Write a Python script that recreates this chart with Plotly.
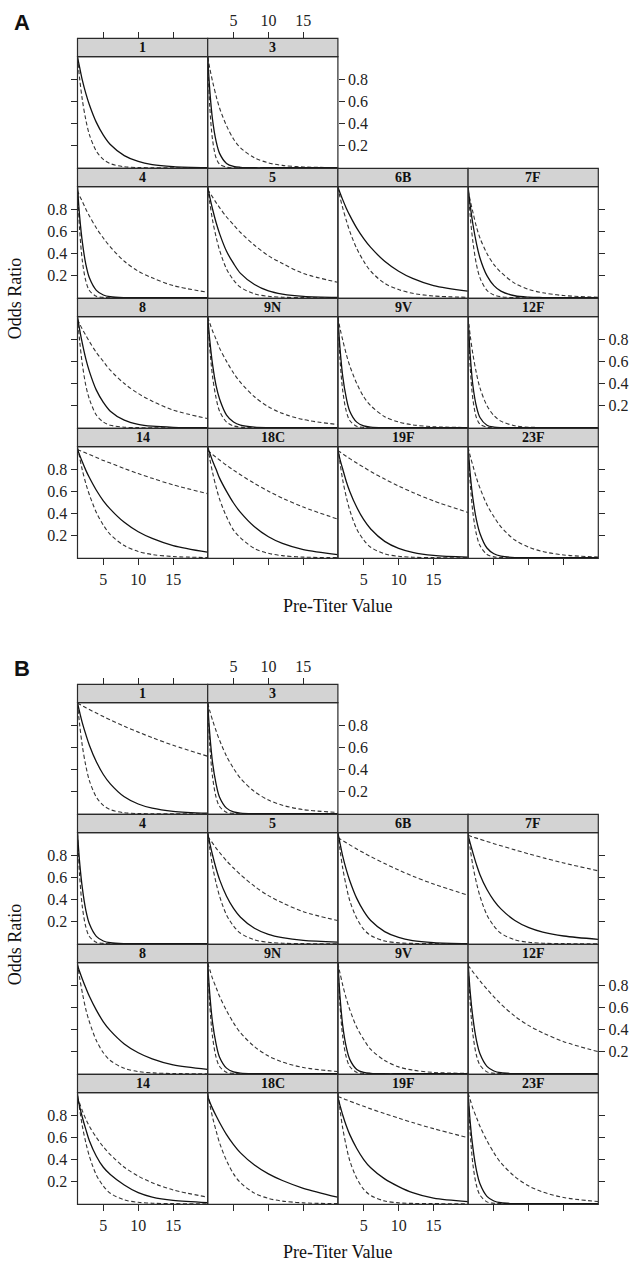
import plotly.graph_objects as go

# ---------------- data ----------------
X_GRID = [1.3, 1.6, 2, 2.5, 3, 4, 5, 6, 8, 10, 12, 15, 19.9]
X_TICKS = [5, 10, 15]
Y_TICKS = [0.2, 0.4, 0.6, 0.8]
PANEL_ROWS = [["1", "3"], ["4", "5", "6B", "7F"], ["8", "9N", "9V", "12F"], ["14", "18C", "19F", "23F"]]

# ---- Figure A ----
A_1_fit = [1.0, 0.91, 0.79, 0.67, 0.57, 0.41, 0.295, 0.21, 0.11, 0.057, 0.029, 0.011, 0.002]
A_1_lo = [1.0, 0.81, 0.61, 0.43, 0.30, 0.15, 0.075, 0.037, 0.009, 0.002, 0.0, 0.0, 0.0]
A_3_fit = [1.0, 0.70, 0.43, 0.24, 0.13, 0.039, 0.012, 0.004, 0.0, 0.0, 0.0, 0.0, 0.0]
A_3_lo = [1.0, 0.55, 0.25, 0.09, 0.033, 0.005, 0.0, 0.0, 0.0, 0.0, 0.0, 0.0, 0.0]
A_3_hi = [1.0, 0.90, 0.78, 0.65, 0.54, 0.38, 0.26, 0.18, 0.09, 0.044, 0.021, 0.007, 0.001]
A_4_fit = [1.0, 0.74, 0.50, 0.30, 0.18, 0.067, 0.025, 0.009, 0.001, 0.0, 0.0, 0.0, 0.0]
A_4_lo = [1.0, 0.62, 0.33, 0.15, 0.066, 0.013, 0.003, 0.0, 0.0, 0.0, 0.0, 0.0, 0.0]
A_4_hi = [0.97, 0.92, 0.87, 0.80, 0.74, 0.63, 0.54, 0.46, 0.33, 0.24, 0.18, 0.11, 0.05]
A_5_fit = [1.0, 0.91, 0.80, 0.68, 0.58, 0.42, 0.31, 0.22, 0.12, 0.062, 0.033, 0.012, 0.003]
A_5_lo = [1.0, 0.86, 0.70, 0.55, 0.43, 0.26, 0.16, 0.095, 0.035, 0.013, 0.005, 0.001, 0.0]
A_5_hi = [0.98, 0.95, 0.91, 0.86, 0.815, 0.73, 0.66, 0.59, 0.475, 0.38, 0.31, 0.22, 0.14]
A_6B_fit = [1.0, 0.95, 0.885, 0.81, 0.745, 0.63, 0.535, 0.455, 0.33, 0.24, 0.175, 0.11, 0.06]
A_6B_lo = [1.0, 0.91, 0.81, 0.70, 0.60, 0.445, 0.33, 0.24, 0.13, 0.074, 0.04, 0.016, 0.004]
A_7F_fit = [1.0, 0.835, 0.66, 0.49, 0.36, 0.20, 0.11, 0.06, 0.018, 0.005, 0.002, 0.0, 0.0]
A_7F_lo = [1.0, 0.74, 0.50, 0.30, 0.18, 0.067, 0.025, 0.009, 0.001, 0.0, 0.0, 0.0, 0.0]
A_7F_hi = [0.97, 0.88, 0.77, 0.64, 0.54, 0.40, 0.30, 0.23, 0.13, 0.075, 0.045, 0.02, 0.005]
A_8_fit = [1.0, 0.89, 0.76, 0.62, 0.51, 0.34, 0.23, 0.15, 0.069, 0.031, 0.014, 0.004, 0.001]
A_8_lo = [1.0, 0.79, 0.57, 0.38, 0.26, 0.115, 0.052, 0.023, 0.005, 0.001, 0.0, 0.0, 0.0]
A_8_hi = [0.98, 0.94, 0.89, 0.835, 0.78, 0.68, 0.60, 0.52, 0.40, 0.31, 0.24, 0.16, 0.083]
A_9N_fit = [1.0, 0.79, 0.57, 0.38, 0.26, 0.115, 0.052, 0.023, 0.005, 0.001, 0.0, 0.0, 0.0]
A_9N_lo = [1.0, 0.72, 0.46, 0.27, 0.15, 0.051, 0.017, 0.006, 0.001, 0.0, 0.0, 0.0, 0.0]
A_9N_hi = [1.0, 0.945, 0.875, 0.80, 0.72, 0.60, 0.495, 0.41, 0.28, 0.19, 0.13, 0.074, 0.029]
A_9V_fit = [1.0, 0.72, 0.46, 0.27, 0.15, 0.051, 0.017, 0.006, 0.001, 0.0, 0.0, 0.0, 0.0]
A_9V_lo = [1.0, 0.62, 0.33, 0.15, 0.066, 0.013, 0.003, 0.0, 0.0, 0.0, 0.0, 0.0, 0.0]
A_9V_hi = [1.0, 0.90, 0.79, 0.665, 0.56, 0.40, 0.28, 0.20, 0.10, 0.052, 0.026, 0.009, 0.002]
A_12F_fit = [1.0, 0.66, 0.375, 0.19, 0.093, 0.023, 0.006, 0.001, 0.0, 0.0, 0.0, 0.0, 0.0]
A_12F_lo = [1.0, 0.55, 0.25, 0.09, 0.033, 0.005, 0.0, 0.0, 0.0, 0.0, 0.0, 0.0, 0.0]
A_12F_hi = [1.0, 0.835, 0.66, 0.49, 0.36, 0.20, 0.11, 0.06, 0.018, 0.005, 0.002, 0.0, 0.0]
A_14_fit = [0.98, 0.93, 0.865, 0.79, 0.725, 0.61, 0.515, 0.44, 0.32, 0.235, 0.175, 0.11, 0.05]
A_14_lo = [1.0, 0.91, 0.79, 0.67, 0.57, 0.41, 0.295, 0.21, 0.11, 0.057, 0.029, 0.011, 0.002]
A_14_hi = [0.98, 0.97, 0.96, 0.947, 0.933, 0.907, 0.88, 0.856, 0.807, 0.761, 0.718, 0.659, 0.58]
A_18C_fit = [1.0, 0.945, 0.875, 0.80, 0.72, 0.60, 0.495, 0.41, 0.28, 0.19, 0.13, 0.074, 0.029]
A_18C_lo = [1.0, 0.895, 0.77, 0.64, 0.53, 0.37, 0.25, 0.18, 0.084, 0.04, 0.019, 0.006, 0.001]
A_18C_hi = [0.97, 0.954, 0.933, 0.908, 0.884, 0.836, 0.792, 0.75, 0.672, 0.602, 0.539, 0.458, 0.35]
A_19F_fit = [0.97, 0.89, 0.80, 0.69, 0.60, 0.456, 0.344, 0.26, 0.148, 0.085, 0.049, 0.021, 0.005]
A_19F_lo = [1.0, 0.86, 0.70, 0.55, 0.43, 0.26, 0.16, 0.095, 0.035, 0.013, 0.005, 0.001, 0.0]
A_19F_hi = [0.97, 0.956, 0.939, 0.918, 0.896, 0.856, 0.818, 0.78, 0.711, 0.648, 0.591, 0.514, 0.41]
A_23F_fit = [1.0, 0.76, 0.53, 0.34, 0.22, 0.088, 0.036, 0.015, 0.002, 0.0, 0.0, 0.0, 0.0]
A_23F_lo = [1.0, 0.68, 0.40, 0.21, 0.11, 0.03, 0.008, 0.002, 0.0, 0.0, 0.0, 0.0, 0.0]
A_23F_hi = [1.0, 0.92, 0.83, 0.72, 0.63, 0.48, 0.37, 0.28, 0.16, 0.095, 0.056, 0.025, 0.007]

# ---- Figure B ----
B_1_fit = [1.0, 0.92, 0.82, 0.715, 0.62, 0.47, 0.355, 0.27, 0.153, 0.088, 0.05, 0.022, 0.005]
B_1_lo = [1.0, 0.81, 0.61, 0.43, 0.30, 0.15, 0.075, 0.037, 0.009, 0.002, 0.0, 0.0, 0.0]
B_1_hi = [1.0, 0.99, 0.976, 0.959, 0.942, 0.91, 0.879, 0.848, 0.791, 0.738, 0.688, 0.619, 0.521]
B_3_fit = [1.0, 0.72, 0.46, 0.27, 0.15, 0.051, 0.017, 0.006, 0.001, 0.0, 0.0, 0.0, 0.0]
B_3_lo = [1.0, 0.62, 0.33, 0.15, 0.066, 0.013, 0.003, 0.0, 0.0, 0.0, 0.0, 0.0, 0.0]
B_3_hi = [1.0, 0.93, 0.845, 0.75, 0.665, 0.52, 0.41, 0.32, 0.20, 0.124, 0.077, 0.037, 0.012]
B_4_fit = [1.0, 0.74, 0.50, 0.30, 0.18, 0.067, 0.025, 0.009, 0.001, 0.0, 0.0, 0.0, 0.0]
B_4_lo = [1.0, 0.62, 0.33, 0.15, 0.066, 0.013, 0.003, 0.0, 0.0, 0.0, 0.0, 0.0, 0.0]
B_5_fit = [1.0, 0.91, 0.80, 0.68, 0.58, 0.43, 0.32, 0.24, 0.14, 0.085, 0.055, 0.03, 0.015]
B_5_lo = [1.0, 0.86, 0.70, 0.55, 0.43, 0.26, 0.16, 0.095, 0.035, 0.013, 0.005, 0.001, 0.0]
B_5_hi = [0.97, 0.945, 0.91, 0.865, 0.825, 0.75, 0.685, 0.625, 0.52, 0.435, 0.37, 0.29, 0.21]
B_6B_fit = [1.0, 0.91, 0.79, 0.67, 0.57, 0.41, 0.295, 0.21, 0.11, 0.057, 0.029, 0.011, 0.002]
B_6B_lo = [1.0, 0.85, 0.68, 0.52, 0.39, 0.23, 0.13, 0.075, 0.025, 0.008, 0.003, 0.001, 0.0]
B_6B_hi = [0.96, 0.948, 0.932, 0.913, 0.894, 0.857, 0.822, 0.788, 0.725, 0.666, 0.612, 0.54, 0.44]
B_7F_fit = [0.98, 0.91, 0.82, 0.715, 0.625, 0.49, 0.39, 0.315, 0.21, 0.145, 0.105, 0.07, 0.04]
B_7F_lo = [1.0, 0.86, 0.70, 0.55, 0.43, 0.26, 0.16, 0.095, 0.035, 0.013, 0.005, 0.001, 0.0]
B_7F_hi = [0.98, 0.974, 0.965, 0.955, 0.945, 0.925, 0.905, 0.886, 0.849, 0.812, 0.778, 0.73, 0.66]
B_8_fit = [0.98, 0.925, 0.855, 0.775, 0.70, 0.575, 0.47, 0.39, 0.27, 0.19, 0.135, 0.08, 0.04]
B_8_lo = [1.0, 0.87, 0.73, 0.58, 0.47, 0.30, 0.19, 0.12, 0.049, 0.02, 0.008, 0.002, 0.0]
B_9N_fit = [1.0, 0.72, 0.46, 0.27, 0.15, 0.051, 0.017, 0.006, 0.001, 0.0, 0.0, 0.0, 0.0]
B_9N_lo = [1.0, 0.62, 0.33, 0.15, 0.066, 0.013, 0.003, 0.0, 0.0, 0.0, 0.0, 0.0, 0.0]
B_9N_hi = [1.0, 0.94, 0.86, 0.78, 0.70, 0.57, 0.46, 0.37, 0.245, 0.16, 0.106, 0.056, 0.02]
B_9V_fit = [1.0, 0.70, 0.43, 0.24, 0.13, 0.039, 0.012, 0.004, 0.0, 0.0, 0.0, 0.0, 0.0]
B_9V_lo = [1.0, 0.62, 0.33, 0.15, 0.066, 0.013, 0.003, 0.0, 0.0, 0.0, 0.0, 0.0, 0.0]
B_9V_hi = [1.0, 0.91, 0.80, 0.68, 0.58, 0.42, 0.31, 0.22, 0.12, 0.062, 0.033, 0.012, 0.003]
B_12F_fit = [1.0, 0.74, 0.50, 0.30, 0.18, 0.067, 0.025, 0.009, 0.001, 0.0, 0.0, 0.0, 0.0]
B_12F_lo = [1.0, 0.64, 0.35, 0.165, 0.078, 0.017, 0.004, 0.001, 0.0, 0.0, 0.0, 0.0, 0.0]
B_12F_hi = [0.98, 0.955, 0.92, 0.88, 0.84, 0.765, 0.695, 0.63, 0.52, 0.435, 0.37, 0.29, 0.20]
B_14_fit = [0.97, 0.88, 0.78, 0.67, 0.57, 0.43, 0.33, 0.265, 0.17, 0.10, 0.06, 0.03, 0.01]
B_14_lo = [1.0, 0.86, 0.70, 0.55, 0.43, 0.26, 0.16, 0.095, 0.035, 0.013, 0.005, 0.001, 0.0]
B_14_hi = [0.97, 0.91, 0.84, 0.765, 0.70, 0.60, 0.515, 0.445, 0.33, 0.25, 0.19, 0.125, 0.06]
B_18C_fit = [0.97, 0.92, 0.86, 0.795, 0.735, 0.625, 0.535, 0.46, 0.35, 0.27, 0.21, 0.14, 0.06]
B_18C_lo = [1.0, 0.90, 0.78, 0.66, 0.55, 0.39, 0.27, 0.19, 0.096, 0.048, 0.024, 0.008, 0.001]
B_19F_fit = [0.96, 0.89, 0.80, 0.705, 0.625, 0.50, 0.40, 0.325, 0.225, 0.155, 0.10, 0.05, 0.02]
B_19F_lo = [1.0, 0.85, 0.68, 0.52, 0.39, 0.23, 0.13, 0.075, 0.025, 0.008, 0.003, 0.001, 0.0]
B_19F_hi = [0.97, 0.962, 0.953, 0.94, 0.928, 0.904, 0.881, 0.858, 0.815, 0.774, 0.734, 0.679, 0.598]
B_23F_fit = [1.0, 0.74, 0.50, 0.30, 0.18, 0.067, 0.025, 0.009, 0.001, 0.0, 0.0, 0.0, 0.0]
B_23F_lo = [1.0, 0.64, 0.35, 0.165, 0.078, 0.017, 0.004, 0.001, 0.0, 0.0, 0.0, 0.0, 0.0]
B_23F_hi = [1.0, 0.94, 0.86, 0.78, 0.70, 0.57, 0.46, 0.37, 0.245, 0.16, 0.106, 0.056, 0.02]

CURVES = {
    "A": {
        "1": (A_1_fit, A_1_lo, None), "3": (A_3_fit, A_3_lo, A_3_hi),
        "4": (A_4_fit, A_4_lo, A_4_hi), "5": (A_5_fit, A_5_lo, A_5_hi),
        "6B": (A_6B_fit, A_6B_lo, None), "7F": (A_7F_fit, A_7F_lo, A_7F_hi),
        "8": (A_8_fit, A_8_lo, A_8_hi), "9N": (A_9N_fit, A_9N_lo, A_9N_hi),
        "9V": (A_9V_fit, A_9V_lo, A_9V_hi), "12F": (A_12F_fit, A_12F_lo, A_12F_hi),
        "14": (A_14_fit, A_14_lo, A_14_hi), "18C": (A_18C_fit, A_18C_lo, A_18C_hi),
        "19F": (A_19F_fit, A_19F_lo, A_19F_hi), "23F": (A_23F_fit, A_23F_lo, A_23F_hi),
    },
    "B": {
        "1": (B_1_fit, B_1_lo, B_1_hi), "3": (B_3_fit, B_3_lo, B_3_hi),
        "4": (B_4_fit, B_4_lo, None), "5": (B_5_fit, B_5_lo, B_5_hi),
        "6B": (B_6B_fit, B_6B_lo, B_6B_hi), "7F": (B_7F_fit, B_7F_lo, B_7F_hi),
        "8": (B_8_fit, B_8_lo, None), "9N": (B_9N_fit, B_9N_lo, B_9N_hi),
        "9V": (B_9V_fit, B_9V_lo, B_9V_hi), "12F": (B_12F_fit, B_12F_lo, B_12F_hi),
        "14": (B_14_fit, B_14_lo, B_14_hi), "18C": (B_18C_fit, B_18C_lo, None),
        "19F": (B_19F_fit, B_19F_lo, B_19F_hi), "23F": (B_23F_fit, B_23F_lo, B_23F_hi),
    },
}

# ---------------- layout geometry (pixels) ----------------
W, H = 638, 1265
LEFT = 77.5
CELL = 130.2
STRIP = 18.3
ROWH = 130.0
TOPS = {"A": 38.3, "B": 684.3}
SERIF = "Liberation Serif, Times New Roman, serif"
SANS = "Liberation Sans, Arial, sans-serif"
INK = "#2a2a2a"
TICKFONT = dict(family=SERIF, size=16, color="#222")


def px_x(p):
    return p / W


def px_y(p):
    return 1 - p / H


fig = go.Figure()
layout = {}
shapes = []
annotations = []
n = 0
for fig_label in ["A", "B"]:
    top0 = TOPS[fig_label]
    for r, row in enumerate(PANEL_ROWS):
        last_col = len(row) - 1
        for c, name in enumerate(row):
            n += 1
            sfx = "" if n == 1 else str(n)
            x0 = LEFT + c * CELL
            x1 = x0 + CELL
            ys = top0 + r * ROWH
            yp0 = ys + STRIP
            yp1 = ys + ROWH

            # x-axis ticks (top row: above the strip; bottom row: below the panel)
            if r == 0:
                xt = dict(ticks="outside", side="top", showticklabels=(c == 1),
                          anchor="free", position=px_y(ys))
            elif r == 3:
                xt = dict(ticks="outside", side="bottom", showticklabels=(c in (0, 2)),
                          anchor="y" + sfx)
            else:
                xt = dict(ticks="", side="bottom", showticklabels=False, anchor="y" + sfx)
            # y-axis ticks
            if c == 0:
                yt = dict(ticks="outside", side="left", showticklabels=(r in (1, 3)))
            elif c == last_col:
                yt = dict(ticks="outside", side="right", showticklabels=(r in (0, 2)))
            else:
                yt = dict(ticks="", side="left", showticklabels=False)

            layout["xaxis" + sfx] = dict(
                domain=[px_x(x0), px_x(x1)], range=[1.3, 19.95],
                showgrid=False, zeroline=False, showline=False,
                tickmode="array", tickvals=X_TICKS, ticklen=6, tickwidth=1,
                tickcolor=INK, tickfont=TICKFONT, fixedrange=True, **xt)
            layout["yaxis" + sfx] = dict(
                domain=[px_y(yp1), px_y(yp0)], anchor="x" + sfx, range=[-0.005, 1.005],
                showgrid=False, zeroline=False, showline=False,
                tickmode="array", tickvals=Y_TICKS, ticklen=6, tickwidth=1,
                tickcolor=INK, tickfont=TICKFONT, fixedrange=True, **yt)

            fit, lo, hi = CURVES[fig_label][name]
            for vals, is_fit in ((lo, False), (hi, False), (fit, True)):
                if vals is None:
                    continue
                fig.add_trace(go.Scatter(
                    x=X_GRID, y=vals, xaxis="x" + sfx, yaxis="y" + sfx, mode="lines",
                    line=dict(color="#111" if is_fit else "#333",
                              width=1.3 if is_fit else 1.1,
                              dash="solid" if is_fit else "4px,2.5px",
                              shape="spline", smoothing=0.9),
                    hoverinfo="skip", showlegend=False))

            # panel border
            shapes.append(dict(type="rect", xref="paper", yref="paper",
                               x0=px_x(x0), x1=px_x(x1), y0=px_y(yp1), y1=px_y(yp0),
                               line=dict(color=INK, width=1.2), fillcolor="rgba(0,0,0,0)",
                               layer="above"))
            # strip
            shapes.append(dict(type="rect", xref="paper", yref="paper",
                               x0=px_x(x0), x1=px_x(x1), y0=px_y(yp0), y1=px_y(ys),
                               line=dict(color=INK, width=1.2), fillcolor="#d3d3d3",
                               layer="above"))
            annotations.append(dict(xref="paper", yref="paper",
                                    x=px_x((x0 + x1) / 2), y=px_y(ys + STRIP / 2),
                                    text="<b>" + name + "</b>", showarrow=False,
                                    font=dict(family=SERIF, size=14, color="#111"),
                                    xanchor="center", yanchor="middle"))

    # figure label and axis titles
    annotations.append(dict(xref="paper", yref="paper", x=px_x(22), y=px_y(top0 - 16),
                            text="<b>" + fig_label + "</b>", showarrow=False,
                            font=dict(family=SANS, size=22, color="#111"),
                            xanchor="center", yanchor="middle"))
    annotations.append(dict(xref="paper", yref="paper", x=px_x(15), y=px_y(top0 + 2 * ROWH),
                            text="Odds Ratio", showarrow=False, textangle=-90,
                            font=dict(family=SERIF, size=18, color="#111"),
                            xanchor="center", yanchor="middle"))
    annotations.append(dict(xref="paper", yref="paper", x=px_x(LEFT + 2 * CELL),
                            y=px_y(top0 + 4 * ROWH + 48),
                            text="Pre-Titer Value", showarrow=False,
                            font=dict(family=SERIF, size=18, color="#111"),
                            xanchor="center", yanchor="middle"))

fig.update_layout(
    width=W, height=H, margin=dict(l=0, r=0, t=0, b=0),
    paper_bgcolor="white", plot_bgcolor="white", showlegend=False,
    shapes=shapes, annotations=annotations, **layout)

fig.write_html("out.html",
               config={"displayModeBar": False, "staticPlot": True},
               post_script="document.body.style.margin='0';"
                           "document.body.style.overflow='hidden';")
